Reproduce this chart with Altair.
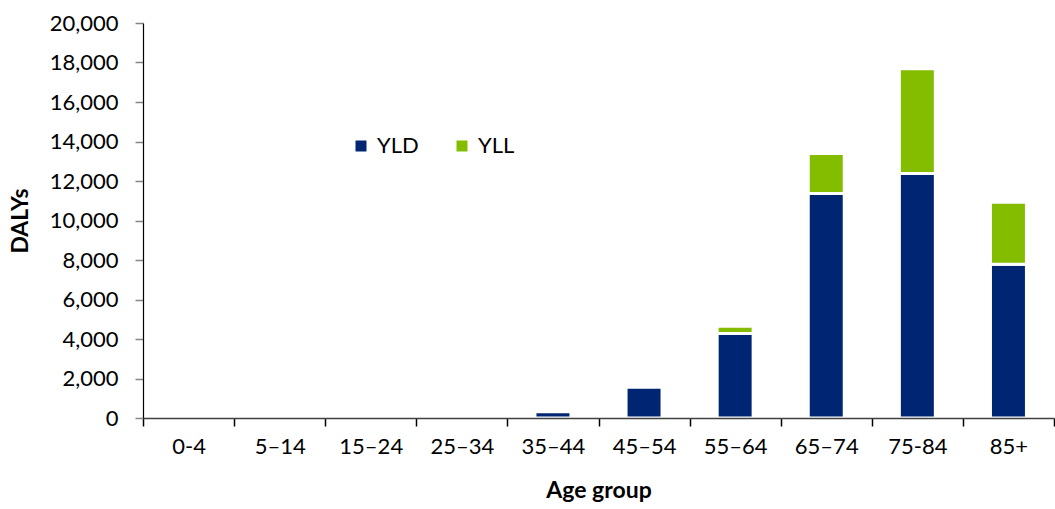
import altair as alt
import pandas as pd

# Age groups and DALY components
age_groups = ["0-4", "5–14", "15–24", "25–34", "35–44", "45–54", "55–64", "65–74", "75-84", "85+"]
yld = [0, 0, 0, 10, 320, 1560, 4280, 11370, 12380, 7780]
yll = [0, 0, 0, 0, 0, 0, 360, 2020, 5300, 3150]
measures = ["YLD", "YLL"]
colors = ["#002673", "#84BD00"]

rows = []
for a, d, l in zip(age_groups, yld, yll):
    rows.append({"age": a, "measure": "YLD", "value": d, "ord": 0})
    rows.append({"age": a, "measure": "YLL", "value": l, "ord": 1})
df = pd.DataFrame(rows)

FONT = "Lato"

bars = alt.Chart(df).transform_filter(
    alt.datum.value > 0
).mark_bar(
    stroke="white", strokeWidth=3, width=alt.RelativeBandSize(0.395)
).encode(
    x=alt.X(
        "age:N",
        sort=age_groups,
        scale=alt.Scale(domain=age_groups, paddingInner=0, paddingOuter=0),
        axis=alt.Axis(
            title="Age group",
            labelAngle=0,
            tickBand="extent",
            tickSize=8,
            tickColor="#000000",
            tickWidth=1.5,
            domainColor="#404040",
            domainWidth=1.5,
            labelFontSize=22,
            labelPadding=10,
            labelColor="#000000",
            titleFontSize=23,
            titleFontWeight="bold",
            titlePadding=22,
            titleColor="#000000",
            zindex=1,
        ),
    ),
    y=alt.Y(
        "value:Q",
        stack="zero",
        scale=alt.Scale(domain=[0, 20000], nice=False),
        axis=alt.Axis(
            title="DALYs",
            values=list(range(0, 20001, 2000)),
            format=",.0f",
            tickSize=8,
            tickColor="#868686",
            tickWidth=1.5,
            domainColor="#000000",
            domainWidth=1.2,
            labelFontSize=22,
            labelPadding=17,
            labelColor="#000000",
            titleFontSize=23,
            titleFontWeight="bold",
            titlePadding=17,
            titleColor="#000000",
            grid=False,
            zindex=1,
        ),
    ),
    color=alt.Color(
        "measure:N",
        scale=alt.Scale(domain=measures, range=colors),
        legend=alt.Legend(
            title=None,
            orient="none",
            legendX=207,
            legendY=112,
            direction="horizontal",
            symbolType="square",
            symbolSize=121,
            symbolStrokeWidth=0,
            labelFontSize=22,
            labelColor="#000000",
            labelOffset=5,
            columnPadding=32,
            padding=0,
        ),
    ),
    order=alt.Order("ord:Q"),
)

chart = bars.properties(
    width=911,
    height=395,
    autosize=alt.AutoSizeParams(type="none"),
    padding={"left": 143, "top": 23, "right": 1, "bottom": 91},
).configure(
    font=FONT,
).configure_view(
    stroke=None
).configure_axis(
    labelFont=FONT, titleFont=FONT
).configure_legend(
    labelFont=FONT
)

chart.save("out.html", embed_options={"renderer": "svg", "actions": False})
